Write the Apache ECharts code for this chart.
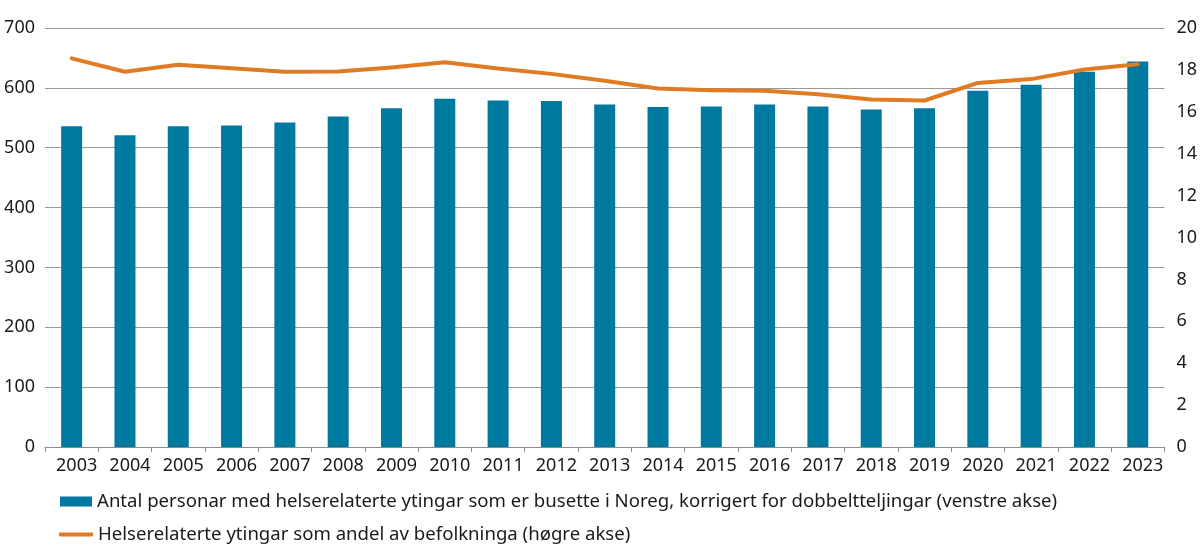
<!DOCTYPE html>
<html>
<head>
<meta charset="utf-8">
<script src="https://cdn.jsdelivr.net/npm/echarts@6/dist/echarts.min.js"></script>
<style>
  html, body { margin: 0; padding: 0; background: #fff; }
  #chart { width: 1200px; height: 558px; }
</style>
</head>
<body>
<div id="chart"></div>
<script>
// år
var years = ['2003','2004','2005','2006','2007','2008','2009','2010','2011','2012',
             '2013','2014','2015','2016','2017','2018','2019','2020','2021','2022','2023'];
// antal personar (1000), venstre akse
var antal = [536, 521, 536, 537, 542, 552, 566, 582, 579, 578,
             572, 568, 569, 572, 569, 564, 566, 595, 605, 627, 644];
// andel av befolkninga (prosent), høgre akse
var andel = [18.55, 17.91, 18.25, 18.08, 17.91, 17.92, 18.12, 18.36, 18.07, 17.81,
             17.48, 17.11, 17.03, 17.0, 16.84, 16.59, 16.54, 17.38, 17.56, 18.02, 18.27];

var barName = 'Antal personar med helserelaterte ytingar som er busette i Noreg, korrigert for dobbeltteljingar (venstre akse)';
var lineName = 'Helserelaterte ytingar som andel av befolkninga (høgre akse)';

var font = '"Noto Sans", "Open Sans", sans-serif';
var txt = '#1a1a1a';

var myChart = echarts.init(document.getElementById('chart'));
var option = {
  animation: false,
  textStyle: { fontFamily: font },
  grid: { left: 45, right: 34, top: 28, bottom: 111 },
  legend: [
    {
      data: [{ name: barName, icon: 'rect' }],
      left: 55, top: 487,
      itemWidth: 32, itemHeight: 10, itemGap: 10,
      textStyle: { fontSize: 18.6, color: txt, fontFamily: font }
    },
    {
      data: [{ name: lineName, icon: 'roundRect' }],
      left: 54, top: 520,
      itemWidth: 34, itemHeight: 4,
      textStyle: { fontSize: 18.6, color: txt, fontFamily: font }
    }
  ],
  xAxis: {
    type: 'category',
    data: years,
    axisLine: { lineStyle: { color: '#8c8c8c', width: 1 } },
    axisTick: { show: true, length: 5, lineStyle: { color: '#8c8c8c' } },
    axisLabel: { interval: 0, fontSize: 18, color: txt, margin: 10, fontFamily: font, padding: [0, 0, 0, 10] }
  },
  yAxis: [
    {
      type: 'value', min: 0, max: 700, interval: 100,
      axisLine: { show: false }, axisTick: { show: false },
      axisLabel: { fontSize: 18, color: txt, margin: 10, fontFamily: font },
      splitLine: { lineStyle: { color: '#9a9a9a', width: 1 } }
    },
    {
      type: 'value', min: 0, max: 20, interval: 2,
      axisLine: { show: false }, axisTick: { show: false },
      axisLabel: { fontSize: 18, color: txt, margin: 12, fontFamily: font },
      splitLine: { show: false }
    }
  ],
  series: [
    {
      name: barName, type: 'bar', data: antal, yAxisIndex: 0,
      barWidth: 21,
      itemStyle: { color: '#0079a1' }
    },
    {
      name: lineName, type: 'line', data: andel, yAxisIndex: 1,
      showSymbol: false, symbol: 'none',
      lineStyle: { color: '#e07b24', width: 4, cap: 'round', join: 'round' },
      itemStyle: { color: '#e07b24' }
    }
  ]
};
myChart.setOption(option);
</script>
</body>
</html>
